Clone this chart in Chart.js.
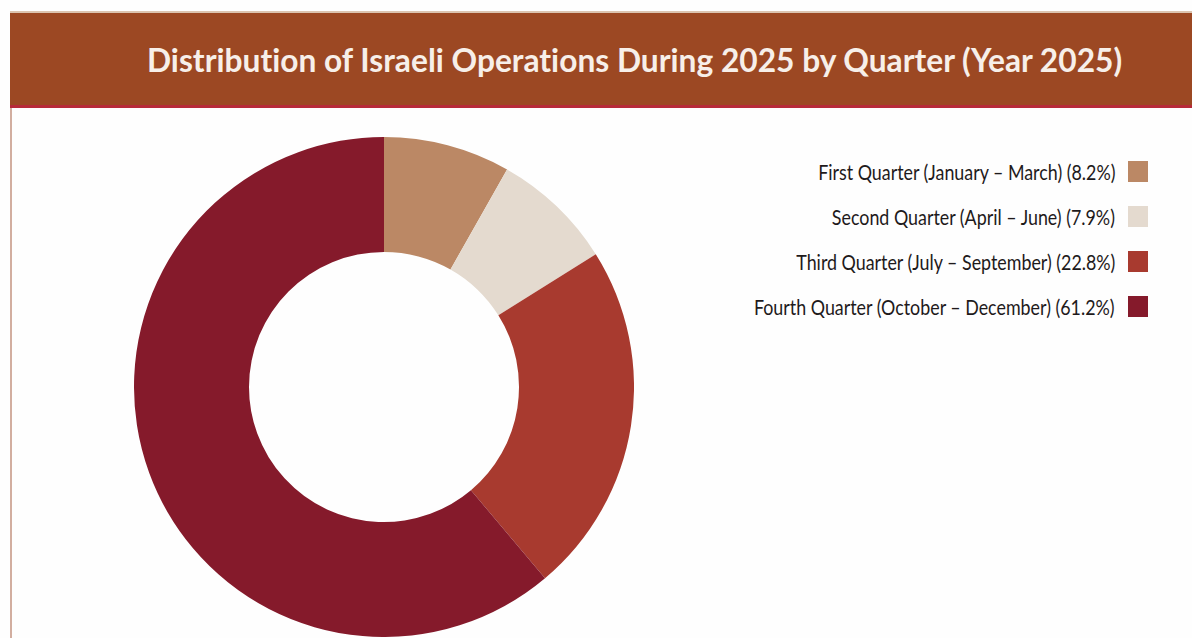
<!DOCTYPE html>
<html>
<head>
<meta charset="utf-8">
<script src="https://cdn.jsdelivr.net/npm/chart.js@4.4.1/dist/chart.umd.min.js"></script>
<style>
  body { margin:0; width:1192px; height:638px; overflow:hidden; background:#fefefe; position:relative; font-family:Lato, "Open Sans", sans-serif; font-variant-ligatures:none; }
  #bandeau { position:absolute; left:10px; top:11px; width:1182px; height:92px; background:#9c4823; border-top:2px solid #dcc4b0; border-bottom:3px solid #b72a39; }
  #titre { position:absolute; left:147px; top:44px; color:#f7efe9; font-weight:700; font-size:32px; line-height:32px; white-space:nowrap; transform-origin:left center; }
  #bord { position:absolute; left:10px; top:108px; width:2px; height:530px; background:#d2aea0; }
  #zone { position:absolute; left:134px; top:137px; width:500px; height:500px; }
  #legende { position:absolute; right:44px; top:149px; }
  .ligne { height:45px; display:flex; justify-content:flex-end; align-items:center; }
  .texte { font-size:22px; color:#1e1a1b; white-space:nowrap; transform-origin:right center; margin-right:13px; }
  .carre { width:20px; height:21px; flex:none; }
</style>
</head>
<body>
<div id="bandeau"></div>
<div id="titre">Distribution of Israeli Operations During 2025 by Quarter (Year 2025)</div>
<div id="bord"></div>
<div id="zone"><canvas id="graph_trimestres"></canvas></div>
<div id="legende"></div>

<script>
// trimestres et parts (%)
var trimestres = ['First Quarter (January – March)', 'Second Quarter (April – June)', 'Third Quarter (July – September)', 'Fourth Quarter (October – December)'];
var parts = [8.2, 7.9, 22.8, 61.2];
var couleurs = ['#bb8865', '#e4dacf', '#a83a2f', '#851a2b'];

// titre ajusté a la largeur du bandeau
var titre = document.getElementById('titre');
titre.style.transform = 'scaleX(' + (975 / titre.scrollWidth) + ')';

function trimestresChart() {
    var ctx = document.getElementById('graph_trimestres').getContext('2d');
    var monDonut = new Chart(ctx, {
        type: 'doughnut',
        data: {
            labels: trimestres,
            datasets: [{
                data: parts,
                backgroundColor: couleurs,
                borderWidth: 0,
                hoverOffset: 0
            }]
        },
        options: {
            responsive: true,
            maintainAspectRatio: false,
            animation: false,
            cutout: '54%',
            layout: { padding: 0 },
            plugins: {
                legend: { display: false },
                tooltip: { enabled: false }
            }
        }
    });
    return monDonut;
}

// legende a droite, texte puis carre
function legende(chart) {
    var bloc = document.getElementById('legende');
    var ds = chart.data.datasets[0];
    var textes = [];
    chart.data.labels.forEach(function (nom, i) {
        var ligne = document.createElement('div');
        ligne.className = 'ligne';
        var t = document.createElement('span');
        t.className = 'texte';
        t.textContent = nom + ' (' + ds.data[i].toFixed(1) + '%)';
        var c = document.createElement('span');
        c.className = 'carre';
        c.style.background = ds.backgroundColor[i];
        ligne.appendChild(t);
        ligne.appendChild(c);
        bloc.appendChild(ligne);
        textes.push(t);
    });
    var plusLong = Math.max.apply(null, textes.map(function (t) { return t.scrollWidth; }));
    var k = 361 / plusLong;
    textes.forEach(function (t) { t.style.transform = 'scaleX(' + k + ')'; });
}

legende(trimestresChart());
</script>
</body>
</html>
